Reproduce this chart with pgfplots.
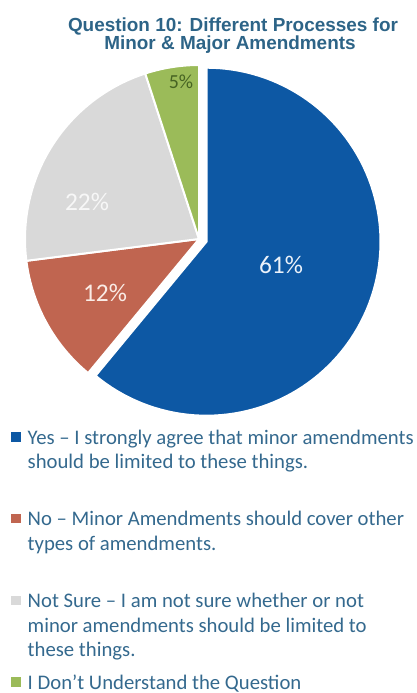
\documentclass[border=0pt]{standalone}
\usepackage{pgfplots}
\pgfplotsset{compat=1.18}
\usepackage{pgfplotstable}
\usepackage{fontspec}
\setmainfont{Carlito}
\newfontfamily\titlefont{Liberation Sans}

\definecolor{cBlue}{RGB}{13,88,164}
\definecolor{cRed}{RGB}{192,101,80}
\definecolor{cGray}{RGB}{217,217,217}
\definecolor{cGreen}{RGB}{155,187,89}
\definecolor{cText}{RGB}{52,105,142}
\definecolor{cTitle}{RGB}{45,100,135}

\pgfplotstableread{
label value
Yes 61
No 12
NotSure 22
DontUnderstand 5
}\piedata

\pgfplotstablegetelem{0}{value}\of\piedata \let\vA\pgfplotsretval
\pgfplotstablegetelem{1}{value}\of\piedata \let\vB\pgfplotsretval
\pgfplotstablegetelem{2}{value}\of\piedata \let\vC\pgfplotsretval
\pgfplotstablegetelem{3}{value}\of\piedata \let\vD\pgfplotsretval
\pgfmathsetmacro\aA{90}
\pgfmathsetmacro\aB{\aA-3.6*\vA}
\pgfmathsetmacro\aC{\aB-3.6*\vB}
\pgfmathsetmacro\aD{\aC-3.6*\vC}
\pgfmathsetmacro\aE{\aD-3.6*\vD}

\newcommand{\legtext}[1]{\hspace{7bp}{\fontsize{20.8}{24.5}\selectfont\color{cText}\begin{tabular}[t]{@{}l@{}}#1\end{tabular}}}

\begin{document}
\begin{tikzpicture}
\path[use as bounding box] (0,0) rectangle (417bp,693bp);
\begin{axis}[
  at={(0,0)}, anchor=south west,
  x=1bp, y=1bp,
  xmin=0, xmax=417, ymin=0, ymax=693,
  hide axis, clip=false,
  legend style={at={(axis cs:11,264)}, anchor=north west, draw=none, fill=none,
    inner sep=0pt, row sep=0pt, column sep=0pt,
    cells={anchor=base west}, nodes={inner sep=0pt, text height=15bp, text depth=66.7bp}},
  legend image code/.code={\fill[#1, draw=none] (0bp,2.5bp) rectangle (9.5bp,12bp);},
]
\addplot[fill=cBlue, draw=white, line width=2bp, domain=\aB:\aA, samples=100]
  ({206.5+174*cos(x)},{451.3+174*sin(x)}) -- (axis cs:206.5,451.3) -- cycle;
\addlegendentry{\legtext{Yes – I strongly agree that minor amendments\\should be limited to these things.}}
\addplot[fill=cRed, draw=white, line width=2bp, domain=\aC:\aB, samples=40]
  ({199+174*cos(x)},{454+174*sin(x)}) -- (axis cs:199,454) -- cycle;
\addlegendentry{\legtext{No – Minor Amendments should cover other\\types of amendments.}}
\addplot[fill=cGray, draw=white, line width=2bp, domain=\aD:\aC, samples=60]
  ({199+174*cos(x)},{454+174*sin(x)}) -- (axis cs:199,454) -- cycle;
\addlegendentry{\legtext{Not Sure – I am not sure whether or not\\minor amendments should be limited to\\these things.}}
\addplot[fill=cGreen, draw=white, line width=2bp, domain=\aE:\aD, samples=20]
  ({199+174*cos(x)},{454+174*sin(x)}) -- (axis cs:199,454) -- cycle;
\addlegendentry{\legtext{I Don't Understand the Question}}

\node[font=\fontsize{25.5}{27}\selectfont, text={rgb,255:red,235;green,242;blue,250}] at (axis cs:281,428) {61\%};
\node[font=\fontsize{25.5}{27}\selectfont, text={rgb,255:red,250;green,236;blue,230}] at (axis cs:105,400) {12\%};
\node[font=\fontsize{25.5}{27}\selectfont, text={rgb,255:red,247;green,247;blue,247}] at (axis cs:87,491) {22\%};
\node[font=\fontsize{20}{22}\selectfont, text={rgb,255:red,70;green,100;blue,35}] at (axis cs:181,611) {5\%};

\node[anchor=base, font=\titlefont\bfseries\fontsize{19}{20}\selectfont, text=cTitle] at (axis cs:233,662) {Question 10: Different Processes for};
\node[anchor=base, font=\titlefont\bfseries\fontsize{19}{20}\selectfont, text=cTitle] at (axis cs:230,643.5) {Minor \& Major Amendments};
\end{axis}
\end{tikzpicture}
\end{document}
